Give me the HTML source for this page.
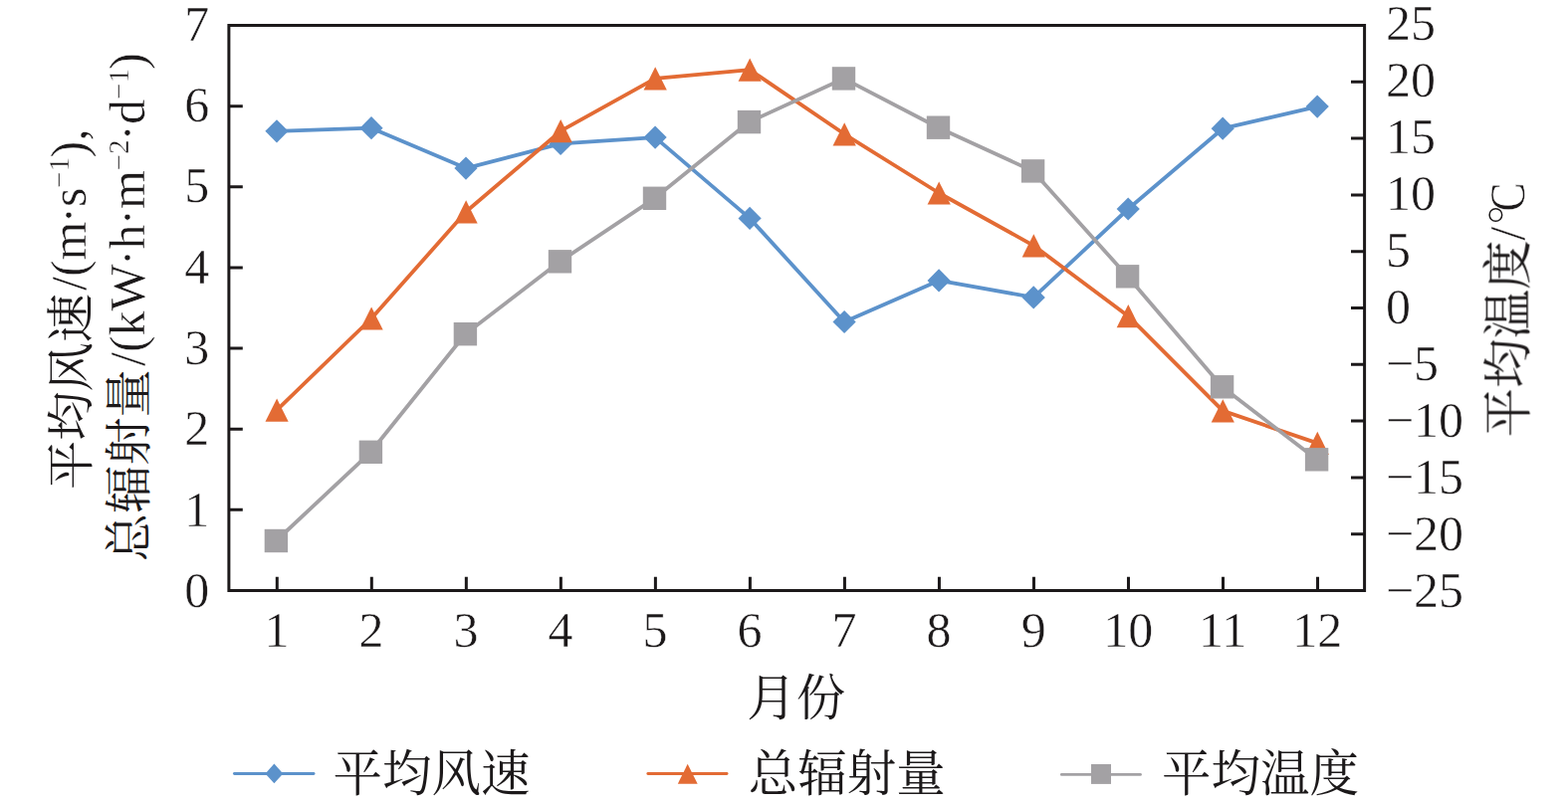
<!DOCTYPE html>
<html lang="zh"><head><meta charset="utf-8"><title>月份 — 平均风速 / 总辐射量 / 平均温度</title>
<style>
html,body{margin:0;padding:0;background:#fff;}
body{width:1575px;height:807px;overflow:hidden;font-family:"Liberation Serif",serif;}
svg{display:block;}
</style></head><body>
<svg width="1575" height="807" viewBox="0 0 1575 807" role="img" aria-label="平均风速、总辐射量、平均温度 月份变化图">
<rect width="1575" height="807" fill="#fff"/>
<g id="series">
<polyline points="278.0,131.8 373.0,128.7 468.0,169.1 563.1,144.4 658.1,138.1 753.1,219.4 848.1,323.5 943.1,281.9 1038.2,298.9 1133.2,210.0 1228.2,129.2 1323.2,107.1" fill="none" stroke="#5c92cb" stroke-width="3.8" stroke-linejoin="round" stroke-linecap="round"/>
<path d="M278.0 120.2L289.6 131.8L278.0 143.4L266.4 131.8Z" fill="#5c92cb"/>
<path d="M373.0 117.1L384.6 128.7L373.0 140.3L361.4 128.7Z" fill="#5c92cb"/>
<path d="M468.0 157.5L479.6 169.1L468.0 180.7L456.4 169.1Z" fill="#5c92cb"/>
<path d="M563.1 132.8L574.7 144.4L563.1 156.0L551.5 144.4Z" fill="#5c92cb"/>
<path d="M658.1 126.5L669.7 138.1L658.1 149.7L646.5 138.1Z" fill="#5c92cb"/>
<path d="M753.1 207.8L764.7 219.4L753.1 231.0L741.5 219.4Z" fill="#5c92cb"/>
<path d="M848.1 311.9L859.7 323.5L848.1 335.1L836.5 323.5Z" fill="#5c92cb"/>
<path d="M943.1 270.3L954.7 281.9L943.1 293.5L931.5 281.9Z" fill="#5c92cb"/>
<path d="M1038.2 287.3L1049.8 298.9L1038.2 310.5L1026.6 298.9Z" fill="#5c92cb"/>
<path d="M1133.2 198.4L1144.8 210.0L1133.2 221.6L1121.6 210.0Z" fill="#5c92cb"/>
<path d="M1228.2 117.6L1239.8 129.2L1228.2 140.8L1216.6 129.2Z" fill="#5c92cb"/>
<path d="M1323.2 95.5L1334.8 107.1L1323.2 118.7L1311.6 107.1Z" fill="#5c92cb"/>
<polyline points="278.1,412.2 373.1,320.0 468.1,212.8 563.2,131.7 658.2,78.8 753.2,70.1 848.2,134.8 943.2,194.0 1038.3,246.8 1133.3,317.7 1228.3,412.9 1323.3,445.4" fill="none" stroke="#e36b34" stroke-width="3.8" stroke-linejoin="round" stroke-linecap="round"/>
<path d="M278.1 400.6L289.7 423.8L266.5 423.8Z" fill="#e36b34"/>
<path d="M373.1 308.4L384.7 331.6L361.5 331.6Z" fill="#e36b34"/>
<path d="M468.1 201.2L479.7 224.4L456.5 224.4Z" fill="#e36b34"/>
<path d="M563.2 120.1L574.8 143.3L551.6 143.3Z" fill="#e36b34"/>
<path d="M658.2 67.2L669.8 90.4L646.6 90.4Z" fill="#e36b34"/>
<path d="M753.2 58.5L764.8 81.7L741.6 81.7Z" fill="#e36b34"/>
<path d="M848.2 123.2L859.8 146.4L836.6 146.4Z" fill="#e36b34"/>
<path d="M943.2 182.4L954.8 205.6L931.6 205.6Z" fill="#e36b34"/>
<path d="M1038.3 235.2L1049.9 258.4L1026.7 258.4Z" fill="#e36b34"/>
<path d="M1133.3 306.1L1144.9 329.3L1121.7 329.3Z" fill="#e36b34"/>
<path d="M1228.3 401.3L1239.9 424.5L1216.7 424.5Z" fill="#e36b34"/>
<path d="M1323.3 433.8L1334.9 457.0L1311.7 457.0Z" fill="#e36b34"/>
<polyline points="277.4,543.5 372.4,454.3 467.4,335.7 562.5,262.8 657.5,199.3 752.5,122.6 847.5,78.9 942.5,128.2 1037.6,171.9 1132.6,277.8 1227.6,388.8 1322.6,461.8" fill="none" stroke="#a3a1a4" stroke-width="3.8" stroke-linejoin="round" stroke-linecap="round"/>
<rect x="265.7" y="531.8" width="23.4" height="23.4" fill="#a3a1a4"/>
<rect x="360.7" y="442.6" width="23.4" height="23.4" fill="#a3a1a4"/>
<rect x="455.7" y="324.0" width="23.4" height="23.4" fill="#a3a1a4"/>
<rect x="550.8" y="251.1" width="23.4" height="23.4" fill="#a3a1a4"/>
<rect x="645.8" y="187.6" width="23.4" height="23.4" fill="#a3a1a4"/>
<rect x="740.8" y="110.9" width="23.4" height="23.4" fill="#a3a1a4"/>
<rect x="835.8" y="67.2" width="23.4" height="23.4" fill="#a3a1a4"/>
<rect x="930.8" y="116.5" width="23.4" height="23.4" fill="#a3a1a4"/>
<rect x="1025.9" y="160.2" width="23.4" height="23.4" fill="#a3a1a4"/>
<rect x="1120.9" y="266.1" width="23.4" height="23.4" fill="#a3a1a4"/>
<rect x="1215.9" y="377.1" width="23.4" height="23.4" fill="#a3a1a4"/>
<rect x="1310.9" y="450.1" width="23.4" height="23.4" fill="#a3a1a4"/>
</g>
<g stroke="#1c191a" stroke-width="3" fill="none">
<rect x="229.9" y="25.5" width="1140.7" height="568.0"/>
<path d="M229.9 512.36H243.8M229.9 431.21H243.8M229.9 350.07H243.8M229.9 268.93H243.8M229.9 187.79H243.8M229.9 106.64H243.8M1370.6 536.70H1357.0M1370.6 479.90H1357.0M1370.6 423.10H1357.0M1370.6 366.30H1357.0M1370.6 309.50H1357.0M1370.6 252.70H1357.0M1370.6 195.90H1357.0M1370.6 139.10H1357.0M1370.6 82.30H1357.0M278.30 593.5V579.8M373.32 593.5V579.8M468.34 593.5V579.8M563.36 593.5V579.8M658.38 593.5V579.8M753.40 593.5V579.8M848.42 593.5V579.8M943.44 593.5V579.8M1038.46 593.5V579.8M1133.48 593.5V579.8M1228.50 593.5V579.8M1323.52 593.5V579.8"/>
</g>
<g opacity="0.999" font-family="'Liberation Serif', serif" font-size="50" fill="#1c191a" stroke="#fff" stroke-width="0.45">
<g text-anchor="end">
<text x="210.3" y="610.0">0</text>
<text x="210.3" y="528.6">1</text>
<text x="210.3" y="447.3">2</text>
<text x="210.3" y="365.9">3</text>
<text x="210.3" y="284.6">4</text>
<text x="210.3" y="203.2">5</text>
<text x="210.3" y="121.8">6</text>
<text x="210.3" y="40.5">7</text>
</g>
<g text-anchor="start">
<text x="1391.9" y="610.1">−25</text>
<text x="1391.9" y="553.1">−20</text>
<text x="1391.9" y="496.0">−15</text>
<text x="1391.9" y="439.0">−10</text>
<text x="1391.9" y="382.0">−5</text>
<text x="1391.9" y="325.0">0</text>
<text x="1391.9" y="267.9">5</text>
<text x="1391.9" y="210.9">10</text>
<text x="1391.9" y="153.9">15</text>
<text x="1391.9" y="96.8">20</text>
<text x="1391.9" y="39.8">25</text>
</g>
<g text-anchor="middle">
<text x="278.0" y="649.9">1</text>
<text x="373.0" y="649.9">2</text>
<text x="468.0" y="649.9">3</text>
<text x="563.1" y="649.9">4</text>
<text x="658.1" y="649.9">5</text>
<text x="753.1" y="649.9">6</text>
<text x="848.1" y="649.9">7</text>
<text x="943.1" y="649.9">8</text>
<text x="1038.2" y="649.9">9</text>
<text x="1133.2" y="649.9">10</text>
<text x="1228.2" y="649.9">11</text>
<text x="1323.2" y="649.9">12</text>
</g>
<text transform="translate(85.9 292.00) rotate(-90)">/(m</text>
<text transform="translate(85.9 224.60) rotate(-90)">·s</text>
<text transform="translate(69.30000000000001 189.00) rotate(-90)" font-size="29.2">−1</text>
<text transform="translate(85.9 158.40) rotate(-90)">),</text>
<text transform="translate(145.3 368.00) rotate(-90)">/(kW</text>
<text transform="translate(145.3 267.25) rotate(-90)">·h</text>
<text transform="translate(145.3 226.60) rotate(-90)">·m</text>
<text transform="translate(128.70000000000002 171.45) rotate(-90)" font-size="29.2">−2</text>
<text transform="translate(145.3 141.68) rotate(-90)">·d</text>
<text transform="translate(128.70000000000002 99.93) rotate(-90)" font-size="29.2">−1</text>
<text transform="translate(145.3 69.86) rotate(-90)">)</text>
<text transform="translate(1530.8 241.80) rotate(-90)">/</text>
<circle cx="1502.4" cy="216.0" r="6.3" fill="none" stroke="#1c191a" stroke-width="1.5"><title>°</title></circle>
<text transform="translate(1530.8 212.6) rotate(-90) scale(0.872 1)">C</text>
</g>
<text transform="translate(87.50 492.10) rotate(-90)" font-family="'Liberation Serif', 'Noto Serif CJK SC', serif" font-size="48" fill="#1c191a" textLength="197" lengthAdjust="spacingAndGlyphs">平均风速</text>
<text transform="translate(145.80 564.20) rotate(-90)" font-family="'Liberation Serif', 'Noto Serif CJK SC', serif" font-size="47.5" fill="#1c191a" textLength="193" lengthAdjust="spacingAndGlyphs">总辐射量</text>
<text transform="translate(1532.30 439.40) rotate(-90)" font-family="'Liberation Serif', 'Noto Serif CJK SC', serif" font-size="49.5" fill="#1c191a">平均温度</text>
<text x="750.20" y="719.30" font-family="'Liberation Serif', 'Noto Serif CJK SC', serif" font-size="49.5" fill="#1c191a">月份</text>
<path d="M235.45 777.5H315.05" stroke="#5c92cb" stroke-width="2.9" stroke-linecap="round"/>
<path d="M275.4 767.5L284.3 777.4L275.4 787.2L266.5 777.4Z" fill="#5c92cb"/>
<text x="334.50" y="795.00" font-family="'Liberation Serif', 'Noto Serif CJK SC', serif" font-size="49.5" fill="#1c191a">平均风速</text>
<path d="M650.85 777.5H730.05" stroke="#e36b34" stroke-width="2.9" stroke-linecap="round"/>
<path d="M690.7 767.8L700.7 787.8L680.8 787.8Z" fill="#e36b34"/>
<text x="751.80" y="795.00" font-family="'Liberation Serif', 'Noto Serif CJK SC', serif" font-size="49.5" fill="#1c191a">总辐射量</text>
<path d="M1066.35 778.4H1145.45" stroke="#a3a1a4" stroke-width="2.9" stroke-linecap="round"/>
<rect x="1096.0" y="768.0" width="20.0" height="19.9" fill="#a3a1a4"/>
<text x="1167.00" y="795.00" font-family="'Liberation Serif', 'Noto Serif CJK SC', serif" font-size="49.5" fill="#1c191a">平均温度</text>
</svg>
</body></html>
